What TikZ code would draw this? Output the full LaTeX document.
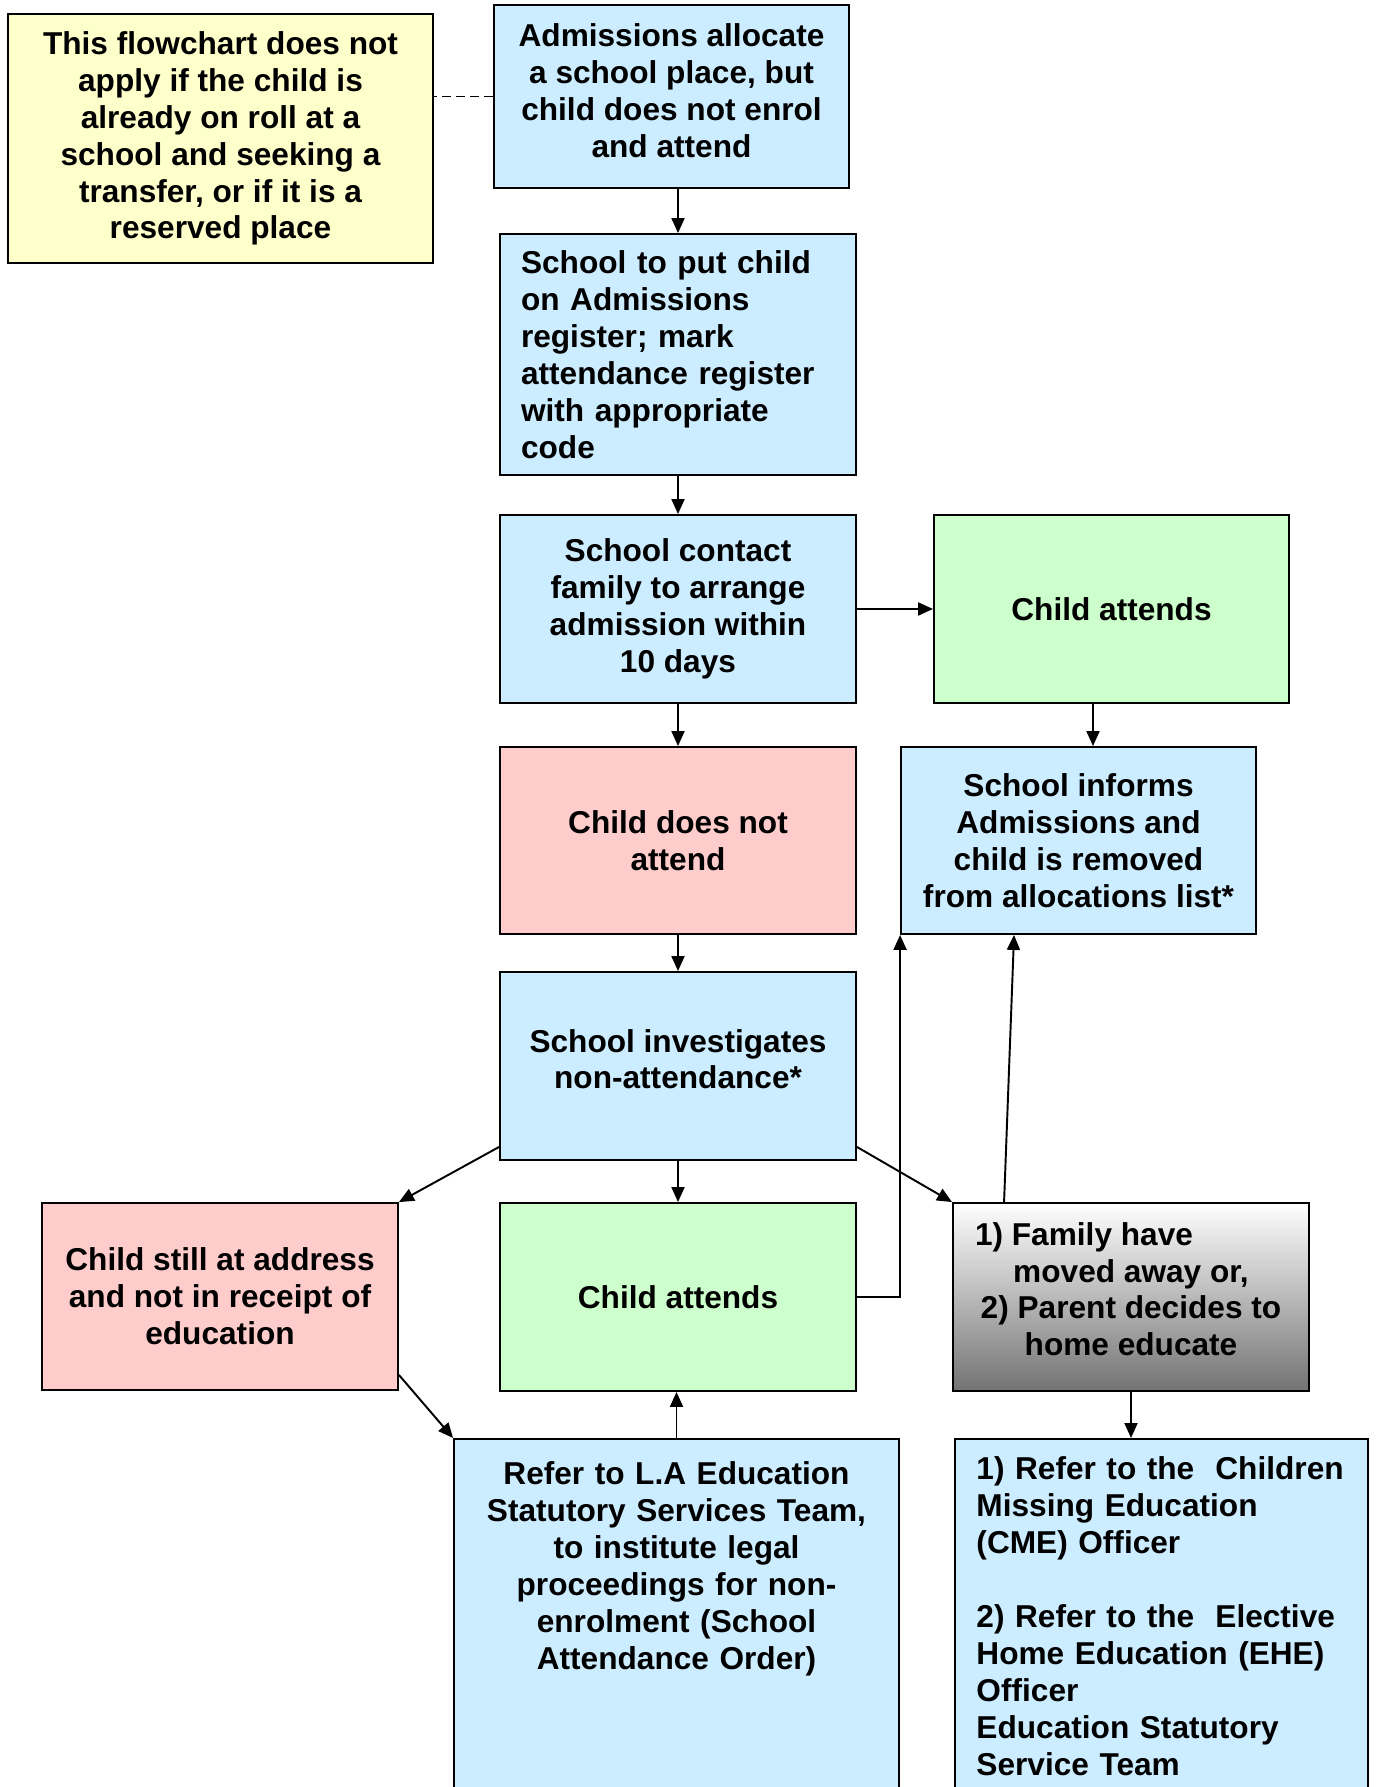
\documentclass[tikz,border=0pt]{standalone}
\usepackage{fontspec}
\setmainfont{Liberation Sans}
\usepackage{tikz}
\usetikzlibrary{positioning,arrows.meta,calc}
\definecolor{boxblue}{HTML}{CCECFF}
\definecolor{boxgreen}{HTML}{CCFFCC}
\definecolor{boxpink}{HTML}{FFCCCC}
\definecolor{boxyellow}{HTML}{FFFFCC}

\begin{document}
\begin{tikzpicture}[x=0.02cm,y=-0.02cm,
  flowbox/.style={draw=black, line width=1.1pt, font=\fontsize{18}{21}\selectfont\bfseries,
    align=center, minimum width=7.12cm, minimum height=3.76cm, inner sep=2pt},
  bluebox/.style={flowbox, fill=boxblue},
  greenbox/.style={flowbox, fill=boxgreen},
  pinkbox/.style={flowbox, fill=boxpink},
  notebox/.style={flowbox, fill=boxyellow},
  greybox/.style={flowbox, top color=white, bottom color=black!55},
  arr/.style={-{Triangle[length=0.3cm,width=0.26cm]}, line width=1.1pt}]
\clip (0,0) rectangle (1384,1787);

% Boxes
\node[notebox, minimum width=8.5cm, minimum height=4.98cm] (note) at (220.5,138.5)
  {This flowchart does not\\apply if the child is\\already on roll at a\\school and seeking a\\transfer, or if it is a\\reserved place};
\node[bluebox, minimum width=7.1cm, minimum height=3.66cm] (admit) at (671.5,96.5)
  {Admissions allocate\\a school place, but\\child does not enrol\\and attend\\[-0.5cm]};
\node[bluebox, align=left, text width=6.28cm, inner xsep=0.42cm, minimum height=4.82cm] (putreg) at (678,354.5)
  {School to put child\\on Admissions\\register; mark\\attendance register\\with appropriate\\code};
\node[bluebox] (contact) at (678,609)
  {School contact\\family to arrange\\admission within\\10 days};
\node[greenbox, minimum width=7.1cm] (attendA) at (1111.5,609) {Child attends};
\node[pinkbox, minimum height=3.74cm] (noattend) at (678,840.5) {Child does not\\attend};
\node[bluebox, minimum width=7.1cm, minimum height=3.74cm] (informs) at (1078.5,840.5)
  {School informs\\Admissions and\\child is removed\\from allocations list*};
\node[bluebox] (investig) at (678,1066) {School investigates\\non-attendance*\\[-0.46cm]};
\node[pinkbox, minimum height=3.74cm] (address) at (220,1296.5)
  {Child still at address\\and not in receipt of\\education};
\node[greenbox] (attendB) at (678,1297) {Child attends};
\node[greybox] (family) at (1131,1297)
  {1) Family have\hspace*{1.88cm}\\moved away or,\\2) Parent decides to\\home educate\\[-0.42cm]};
\node[bluebox, anchor=north, minimum width=8.9cm, text width=8.5cm, inner xsep=0.2cm, inner ysep=0pt,
  text height=0.92cm, text depth=9cm] (refla) at (676.5,1438)
  {Refer to L.A Education\\Statutory Services Team,\\to institute legal\\proceedings for non-\\enrolment (School\\Attendance Order)};
\node[bluebox, anchor=north west, align=left, minimum width=8.26cm, text width=7.6cm, inner xsep=0.33cm,
  inner ysep=0pt, text height=0.82cm, text depth=9cm] (refcme) at (954,1438)
  {\hspace*{0.1cm}1) Refer to the\ \ Children\\\hspace*{0.1cm}Missing Education\\\hspace*{0.1cm}(CME) Officer\\[21pt]\hspace*{0.1cm}2) Refer to the\ \ Elective\\\hspace*{0.1cm}Home Education (EHE)\\\hspace*{0.1cm}Officer\\\hspace*{0.1cm}Education Statutory\\\hspace*{0.1cm}Service Team};

% Connectors
\draw[dash pattern=on 5pt off 3pt, line width=1.1pt] (admit.west) -- (admit.west -| note.east);
\draw[arr] (admit.south -| putreg.north) -- (putreg.north);
\draw[arr] (putreg.south) -- (contact.north);
\draw[arr] (contact.east) -- (attendA.west);
\draw[arr] ([xshift=0.29cm]informs.north |- attendA.south) -- ([xshift=0.29cm]informs.north);
\draw[arr] (contact.south) -- (noattend.north);
\draw[arr] (noattend.south) -- (investig.north);
\draw[arr] (investig.south) -- (attendB.north);
\draw[arr] ([yshift=0.28cm]investig.south west) -- (address.north east);
\draw[arr] ([yshift=0.28cm]investig.south east) -- (family.north west);
\draw[arr] (attendB.east) -| (informs.south west);
\draw[arr] ([xshift=1.04cm]family.north west) -- ([xshift=2.28cm]informs.south west);
\draw[arr] (family.south) -- (family.south |- refcme.north);
\draw[arr] ([yshift=0.32cm]address.south east) -- (refla.north west);
\draw[arr] (refla.north) -- (refla.north |- attendB.south);
\end{tikzpicture}
\end{document}
